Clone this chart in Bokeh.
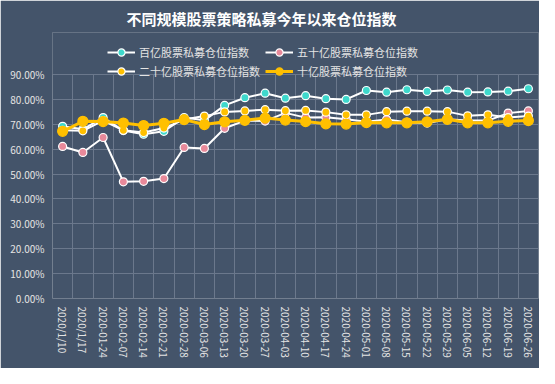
from bokeh.plotting import figure
from bokeh.models import (FactorRange, Range1d, Legend, LegendItem, PrintfTickFormatter,
                          FixedTicker, Grid, ColumnDataSource, BoxAnnotation)
from bokeh.embed import file_html
from bokeh.resources import INLINE

title_text = "不同规模股票策略私募今年以来仓位指数"

categories = ["2020/1/10", "2020/1/17", "2020-01-24", "2020-02-07", "2020-02-14", "2020-02-21",
              "2020-02-28", "2020-03-06", "2020-03-13", "2020-03-20", "2020-03-27", "2020-04-03",
              "2020-04-10", "2020-04-17", "2020-04-24", "2020-05-01", "2020-05-08", "2020-05-15",
              "2020-05-22", "2020-05-29", "2020-06-05", "2020-06-12", "2020-06-19", "2020-06-26"]

series_names = ["百亿股票私募仓位指数", "五十亿股票私募仓位指数", "二十亿股票私募仓位指数", "十亿股票私募仓位指数"]

baiyi = [69.2, 68.0, 72.7, 67.5, 66.0, 67.2, 72.7, 71.6, 77.6, 80.7, 82.5, 80.5,
         81.5, 80.3, 80.0, 83.6, 82.9, 83.9, 83.2, 83.8, 82.9, 83.0, 83.3, 84.3]
wushiyi = [61.1, 58.7, 64.7, 46.9, 47.1, 48.2, 60.7, 60.3, 68.4, 71.5, 71.3, 74.6,
           72.7, 72.8, 72.0, 71.0, 71.9, 70.8, 70.5, 72.0, 71.5, 71.5, 74.5, 75.4]
ershiyi = [67.6, 67.4, 71.5, 67.6, 66.7, 68.5, 71.9, 73.3, 75.0, 75.4, 75.9, 75.5,
           75.6, 74.9, 73.8, 73.8, 75.1, 75.3, 75.3, 75.1, 73.4, 73.8, 72.7, 73.3]
shiyi = [67.2, 71.2, 71.1, 70.5, 69.5, 70.4, 71.9, 69.9, 71.0, 71.6, 72.5, 71.7,
         71.1, 70.2, 70.1, 70.7, 70.6, 70.6, 71.0, 72.0, 70.6, 70.6, 71.2, 71.5]

y_ticks = [0, 10, 20, 30, 40, 50, 60, 70, 80, 90]

BG = "#44546A"
GRID = "#6B788C"
TXT = "#E4E4E4"
FONT = "Noto Sans CJK SC"

# frame extends above 90% so the legend (drawn inside the frame) can overlap the top
y_max = y_ticks[-1]
y_top = y_max + 16.9

p = figure(width=539, height=368,
           x_range=FactorRange(factors=categories, range_padding=0),
           y_range=Range1d(y_ticks[0], y_top),
           output_backend="svg", toolbar_location=None,
           min_border_left=52, min_border_right=1, min_border_top=32, min_border_bottom=70)

p.background_fill_color = BG
p.border_fill_color = BG
p.outline_line_color = None

p.title.text = title_text
p.title.align = "left"
p.title.offset = 74
p.title.standoff = 8
p.title.text_font_size = "15px"
p.title.text_font_style = "bold"
p.title.text_color = "#FFFFFF"
p.title.text_font = FONT

# grids (vertical lines between categories, like the category-axis gridlines)
p.xgrid.visible = False
p.add_layout(Grid(dimension=0, ticker=FixedTicker(ticks=list(range(len(categories) + 1))),
                  grid_line_color=GRID, grid_line_width=1))
p.ygrid.ticker = FixedTicker(ticks=y_ticks)
p.ygrid.grid_line_color = GRID

# mask the gridlines above the plot area top (90%)
p.add_layout(BoxAnnotation(bottom=y_max + 0.25, fill_color=BG, fill_alpha=1,
                           line_color=None, level="underlay"))

p.yaxis.ticker = FixedTicker(ticks=y_ticks)
p.yaxis.formatter = PrintfTickFormatter(format="%.2f%%")

for ax in (p.xaxis[0], p.yaxis[0]):
    ax.axis_line_color = None
    ax.major_tick_line_color = None
    ax.minor_tick_line_color = None
    ax.major_tick_out = 0
    ax.minor_tick_out = 0
    ax.major_label_text_color = TXT
    ax.major_label_text_font = FONT
    ax.major_label_text_font_size = "10px"
p.yaxis.major_label_standoff = 8
p.xaxis.major_label_standoff = 8
p.xaxis.major_label_orientation = "vertical"

src = ColumnDataSource(dict(x=categories, a=baiyi, b=wushiyi, c=ershiyi, d=shiyi))

items = []
specs = [("a", "#FFFFFF", 2, "#3ED8CC", 8),
         ("b", "#FFFFFF", 2, "#E8899A", 8),
         ("c", "#FFFFFF", 2, "#FFC000", 8),
         ("d", "#FFC000", 3, "#FFC000", 10)]
for (col, lc, lw, mc, ms), name in zip(specs, series_names):
    ln = p.line("x", col, source=src, line_color=lc, line_width=lw)
    sc = p.scatter("x", col, source=src, size=ms, fill_color=mc,
                   line_color="#FFFFFF" if col != "d" else mc, line_width=1.2)
    items.append(LegendItem(label=name, renderers=[ln, sc]))

legend = Legend(items=items, ncols=2, orientation="horizontal", location=(55, 218),
                background_fill_alpha=0, border_line_color=None,
                label_text_color=TXT, label_text_font=FONT, label_text_font_size="11px",
                glyph_width=28, glyph_height=18, label_height=18, label_standoff=4,
                spacing=1, label_width=125, padding=0, margin=0)
p.add_layout(legend, "center")

open("out.html", "w").write(file_html(p, INLINE))
